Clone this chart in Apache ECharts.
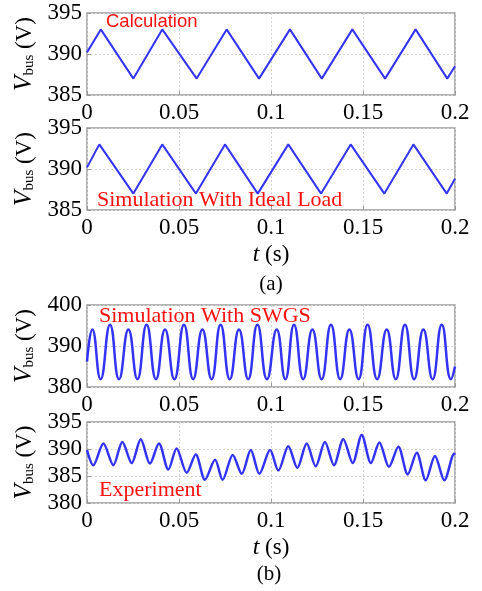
<!DOCTYPE html>
<html>
<head>
<meta charset="utf-8">
<script src="https://cdn.jsdelivr.net/npm/echarts@6/dist/echarts.min.js"></script>
<style>
  html, body { margin: 0; padding: 0; background: #fff; }
  #eChart { width: 482px; height: 591px; }
</style>
</head>
<body>
<div id="eChart"></div>
<script>
// tick labels
const xTickLabels = ["0", "0.05", "0.1", "0.15", "0.2"];

// (a) calculation - triangle vertices
const calcT = [0, 0.0075, 0.0252, 0.0409, 0.0596, 0.0759, 0.0935, 0.1103, 0.1276, 0.1442, 0.162, 0.1786, 0.1958, 0.2];
const calcV = [390.2, 393, 387, 393, 387, 393, 387, 393, 387, 393, 387, 393, 387, 388.5];

// (a) simulation with ideal load
const idealT = [0, 0.0067, 0.0252, 0.0409, 0.0592, 0.075, 0.0928, 0.1094, 0.1272, 0.1433, 0.1616, 0.1774, 0.1955, 0.2];
const idealV = [390.2, 393, 387, 393, 387, 393, 387, 393, 387, 393, 387, 393, 387, 388.8];

// (b) simulation with SWGS - peaks and troughs
const swgsT = [0, 0.0029, 0.0074, 0.0125, 0.0174, 0.0225, 0.0274, 0.0324, 0.0375, 0.0424, 0.0475, 0.0527, 0.0577, 0.0627, 0.0677, 0.0726, 0.0776, 0.0826, 0.0876, 0.0926, 0.0978, 0.1031, 0.1078, 0.1125, 0.1175, 0.1225, 0.1275, 0.1326, 0.1376, 0.1426, 0.1476, 0.1525, 0.1577, 0.1629, 0.1678, 0.1728, 0.1778, 0.1828, 0.1878, 0.1928, 0.1978, 0.2];
const swgsV = [386.2, 394, 381.9, 395.2, 381.9, 394, 381.9, 395.2, 381.9, 394, 381.9, 395.2, 381.9, 394, 381.9, 395.2, 381.9, 394, 381.9, 395.2, 381.9, 394, 381.9, 395.2, 381.9, 394, 381.9, 395.2, 381.9, 394, 381.9, 395.2, 381.9, 394, 381.9, 395.2, 381.9, 394, 381.9, 395.2, 381.9, 385];

// (b) experiment - peaks and troughs
const expT = [0, 0.0034, 0.0089, 0.0143, 0.0192, 0.0243, 0.0292, 0.0342, 0.0391, 0.0442, 0.0487, 0.0542, 0.0591, 0.0641, 0.0696, 0.0737, 0.0792, 0.0841, 0.089, 0.0937, 0.0995, 0.104, 0.1094, 0.1143, 0.1194, 0.1243, 0.1293, 0.1342, 0.1393, 0.1444, 0.1493, 0.1543, 0.1589, 0.1641, 0.1692, 0.1743, 0.1792, 0.1841, 0.1891, 0.1942, 0.1996, 0.2];
const expV = [389.8, 387, 391, 387, 391.3, 387.4, 391.8, 387.3, 391, 386.2, 390.1, 385.6, 389, 384.3, 388, 384.3, 388.9, 385.4, 389.8, 385.4, 389.8, 386, 390.5, 386.5, 391, 386.8, 391.3, 387, 391.8, 387.4, 392.6, 387.4, 391.2, 386.7, 390.4, 385.3, 389.3, 384.2, 388.7, 384.2, 389.1, 388.9];

const yRanges = [[385, 395, 5], [385, 395, 5], [380, 400, 10], [380, 395, 5]];
const panelLabels = ["Calculation", "Simulation With Ideal Load", "Simulation With SWGS", "Experiment"];

const SERIF = "Liberation Serif";
const BLUE = "#3333f5";
const RED = "#ff1010";

const zip = (a, b) => a.map((v, i) => [v, b[i]]);

const grids = [
  { left: 87, top: 13, width: 368, height: 82 },
  { left: 87, top: 128, width: 368, height: 82 },
  { left: 87, top: 305, width: 368, height: 82 },
  { left: 87, top: 422, width: 368, height: 81 },
].map((g) => ({ ...g, show: true, borderColor: "#9a9a9a", borderWidth: 1.5, backgroundColor: "#fff" }));

const xAxes = grids.map((g, i) => ({
  type: "value",
  gridIndex: i,
  min: 0,
  max: 0.2,
  interval: 0.05,
  axisLine: { show: false },
  axisTick: { show: true, inside: true, length: 4, lineStyle: { color: "#9a9a9a" } },
  splitLine: { show: true, lineStyle: { color: "#d2d2d2", type: [2, 2], width: 1 } },
  axisLabel: {
    margin: 6,
    fontFamily: SERIF,
    fontSize: 23,
    color: "#000",
    formatter: (v) => xTickLabels[Math.round(v / 0.05)],
  },
  name: i === 1 || i === 3 ? "{t|t}{n| (s)}" : "",
  nameLocation: "middle",
  nameGap: 33,
  nameTextStyle: {
    rich: {
      t: { fontFamily: SERIF, fontSize: 24, fontStyle: "italic", color: "#000" },
      n: { fontFamily: SERIF, fontSize: 23, color: "#000" },
    },
  },
}));

const yAxes = grids.map((g, i) => ({
  type: "value",
  gridIndex: i,
  min: yRanges[i][0],
  max: yRanges[i][1],
  interval: yRanges[i][2],
  axisLine: { show: false },
  axisTick: { show: true, inside: true, length: 4, lineStyle: { color: "#9a9a9a" } },
  splitLine: { show: true, lineStyle: { color: "#d2d2d2", type: [2, 2], width: 1 } },
  axisLabel: { margin: 5, fontFamily: SERIF, fontSize: 23, color: "#000" },
  name: "{v|V}{s|bus}{n| (V)}",
  nameLocation: "middle",
  nameGap: 43,
  nameTextStyle: {
    rich: {
      v: { fontFamily: SERIF, fontSize: 25, fontStyle: "italic", color: "#000", verticalAlign: "bottom", lineHeight: 24 },
      s: { fontFamily: SERIF, fontSize: 15, color: "#000", verticalAlign: "bottom", lineHeight: 8 },
      n: { fontFamily: SERIF, fontSize: 23, color: "#000", verticalAlign: "bottom", lineHeight: 24 },
    },
  },
}));

const seriesData = [zip(calcT, calcV), zip(idealT, idealV), zip(swgsT, swgsV), zip(expT, expV)];
const series = seriesData.map((d, i) => ({
  type: "line",
  xAxisIndex: i,
  yAxisIndex: i,
  data: d,
  showSymbol: false,
  smooth: i === 2 ? 0.5 : i === 3 ? 0.3 : false,
  lineStyle: { color: BLUE, width: i >= 2 ? 2.5 : 2 },
  z: 3,
}));

const graphic = [
  { type: "text", x: 106, y: 21.5, z: 10, style: { text: panelLabels[0], font: '18.5px "Liberation Sans"', fill: RED, textVerticalAlign: "middle" } },
  { type: "text", x: 97, y: 200.5, z: 10, style: { text: panelLabels[1], font: `22px "${SERIF}"`, fill: RED, textVerticalAlign: "middle" } },
  { type: "text", x: 99, y: 316.5, z: 10, style: { text: panelLabels[2], font: `22px "${SERIF}"`, fill: RED, textVerticalAlign: "middle" } },
  { type: "text", x: 99, y: 490, z: 10, style: { text: panelLabels[3], font: `22px "${SERIF}"`, fill: RED, textVerticalAlign: "middle" } },
  { type: "text", x: 271, y: 284, style: { text: "(a)", font: `21px "${SERIF}"`, fill: "#000", textAlign: "center", textVerticalAlign: "middle" } },
  { type: "text", x: 269, y: 574, style: { text: "(b)", font: `21px "${SERIF}"`, fill: "#000", textAlign: "center", textVerticalAlign: "middle" } },
];

const myChart = echarts.init(document.getElementById("eChart"), null, { renderer: "canvas" });
myChart.setOption({
  animation: false,
  backgroundColor: "#fff",
  grid: grids,
  xAxis: xAxes,
  yAxis: yAxes,
  series,
  graphic,
});
</script>
</body>
</html>
